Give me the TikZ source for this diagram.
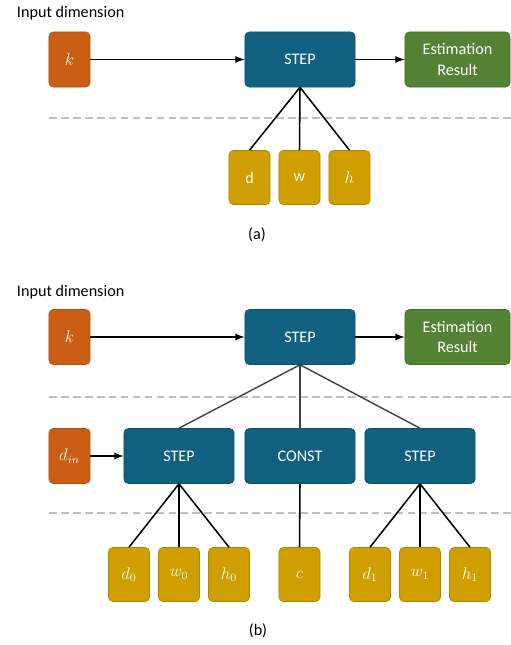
\documentclass[tikz,border=0pt]{standalone}
\usepackage{fontspec}
\setmainfont{Carlito}
\definecolor{inorange}{HTML}{CB5E15}
\definecolor{stepblue}{HTML}{11607F}
\definecolor{resgreen}{HTML}{548235}
\definecolor{pargold}{HTML}{CF9E00}
\definecolor{sepgray}{HTML}{BFBFBF}
\begin{document}
\begin{tikzpicture}[x=0.025cm, y=-0.025cm, >=latex,
    block/.style={rounded corners=3pt, inner sep=0pt, text=white, line width=0.4pt,
        font=\fontsize{11.5}{14.5}\selectfont, align=center},
    inbox/.style={block, fill=inorange, draw=inorange!85!black,
        minimum width=1.025cm, minimum height=1.375cm},
    stepbox/.style={block, fill=stepblue, draw=stepblue!85!black,
        minimum width=2.75cm, minimum height=1.375cm},
    resbox/.style={block, fill=resgreen, draw=resgreen!85!black,
        minimum width=2.625cm, minimum height=1.375cm},
    parbox/.style={block, fill=pargold, draw=pargold!85!black,
        minimum width=1.025cm, minimum height=1.35cm},
    feed/.style={->, line width=1.3pt},
    link/.style={line width=1.1pt},
    sep/.style={sepgray, line width=1.4pt, dash pattern=on 5.5pt off 3pt},
    caption/.style={font=\fontsize{11.5}{14}\selectfont}]

    \useasboundingbox (0,0) rectangle (511,645);

    % 1. Phần (a): một khối STEP
    \node[caption, anchor=base west] (title_a) at (12,17) {Input dimension};
    \node[inbox]   (k_a)    at (69.5,59.5) {$k$};
    \node[stepbox] (step_a) at (300,59.5)  {STEP};
    \node[resbox]  (res_a)  at (457.5,59.5) {Estimation\\Result};

    \draw[feed] (k_a) -- (step_a);
    \draw[feed] (step_a) -- (res_a);

    % Đường phân cách
    \coordinate (sepL_a) at (49,118);
    \coordinate (sepR_a) at (511,118);
    \draw[sep] (sepL_a) -- (sepR_a);

    % Các tham số d, w, h
    \node[parbox] (d_a) at (249.5,177.5) {d};
    \node[parbox] (w_a) at (299.5,177.5) {w};
    \node[parbox] (h_a) at (349.5,177.5) {$h$};
    \foreach \p in {d_a, w_a, h_a}
        \draw[link] (step_a.south) -- (\p.north);

    \node[caption] (lab_a) at (257,235) {(a)};

    % 2. Phần (b): STEP lồng nhau
    \node[caption, anchor=base west] (title_b) at (12,296) {Input dimension};
    \node[inbox]   (k_b)    at (69.5,337) {$k$};
    \node[stepbox] (step_b) at (300,337)  {STEP};
    \node[resbox]  (res_b)  at (457.5,337) {Estimation\\Result};

    \draw[feed] (k_b) -- (step_b);
    \draw[feed] (step_b) -- (res_b);

    \coordinate (sepL_b) at (49,397);
    \coordinate (sepR_b) at (511,397);
    \draw[sep] (sepL_b) -- (sepR_b);

    % Tầng giữa
    \node[inbox]   (din)   at (69.5,456) {$d_{in}$};
    \node[stepbox] (stepL) at (179,456)  {STEP};
    \node[stepbox] (const) at (300,456)  {CONST};
    \node[stepbox] (stepR) at (420,456)  {STEP};

    \draw[feed] (din) -- (stepL);
    \foreach \q in {stepL, const, stepR}
        \draw[link, black!75, line width=1pt] (step_b.south) -- (\q.north);

    \coordinate (sepL_c) at (49,513);
    \coordinate (sepR_c) at (511,513);
    \draw[sep] (sepL_c) -- (sepR_c);

    % 3. Tầng lá
    \node[parbox] (d0) at (129,574.5) {$d_0$};
    \node[parbox] (w0) at (179,574.5) {$w_0$};
    \node[parbox] (h0) at (229,574.5) {$h_0$};
    \node[parbox] (c)  at (299.5,574.5) {$c$};
    \node[parbox] (d1) at (370,574.5) {$d_1$};
    \node[parbox] (w1) at (420,574.5) {$w_1$};
    \node[parbox] (h1) at (470,574.5) {$h_1$};

    \foreach \p in {d0, w0, h0}
        \draw[link] (stepL.south) -- (\p.north);
    \draw[link] (const.south) -- (c.north);
    \foreach \p in {d1, w1, h1}
        \draw[link] (stepR.south) -- (\p.north);

    \node[caption] (lab_b) at (258,631) {(b)};

\end{tikzpicture}
\end{document}
